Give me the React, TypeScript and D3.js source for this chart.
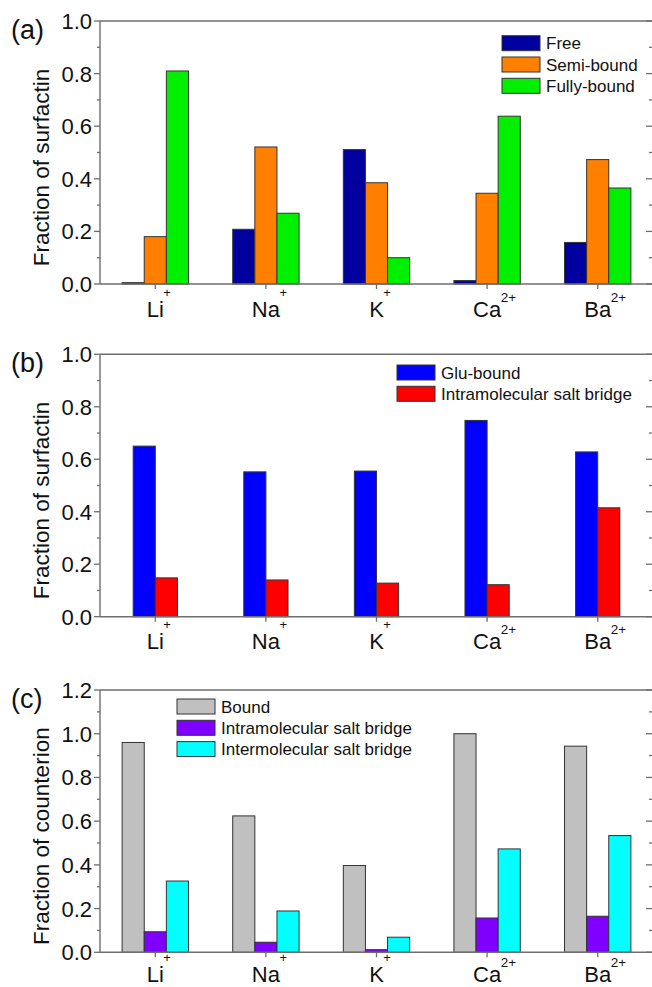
import React from "react";
import * as d3 from "d3";

const categories = ["Li", "Na", "K", "Ca", "Ba"];
const charges = ["+", "+", "+", "2+", "2+"];

const freeVals = [0.005, 0.208, 0.511, 0.013, 0.158];
const semiVals = [0.18, 0.521, 0.385, 0.345, 0.473];
const fullyVals = [0.81, 0.269, 0.1, 0.638, 0.365];

const gluVals = [0.65, 0.552, 0.555, 0.748, 0.628];
const intraSurfVals = [0.148, 0.14, 0.128, 0.122, 0.415];

const boundVals = [0.96, 0.624, 0.397, 1.0, 0.943];
const intraCountVals = [0.094, 0.046, 0.012, 0.157, 0.165];
const interCountVals = [0.326, 0.189, 0.069, 0.473, 0.534];

const yTicksAB = [0, 0.2, 0.4, 0.6, 0.8, 1.0];
const yTicksC = [0, 0.2, 0.4, 0.6, 0.8, 1.0, 1.2];

type Series = { name: string; values: number[]; color: string };
type PanelCfg = {
  tag: string;
  ylabel: string;
  top: number;
  bottom: number;
  yMax: number;
  ticks: number[];
  series: Series[];
  legendX: number;
  legendY: number;
};

const panels: PanelCfg[] = [
  {
    tag: "(a)",
    ylabel: "Fraction of surfactin",
    top: 21,
    bottom: 284,
    yMax: 1.0,
    ticks: yTicksAB,
    series: [
      { name: "Free", values: freeVals, color: "#00009e" },
      { name: "Semi-bound", values: semiVals, color: "#ff8000" },
      { name: "Fully-bound", values: fullyVals, color: "#00f000" },
    ],
    legendX: 502,
    legendY: 35.7,
  },
  {
    tag: "(b)",
    ylabel: "Fraction of surfactin",
    top: 354.3,
    bottom: 616.7,
    yMax: 1.0,
    ticks: yTicksAB,
    series: [
      { name: "Glu-bound", values: gluVals, color: "#0000ff" },
      { name: "Intramolecular salt bridge", values: intraSurfVals, color: "#ff0000" },
    ],
    legendX: 397,
    legendY: 365,
  },
  {
    tag: "(c)",
    ylabel: "Fraction of counterion",
    top: 690,
    bottom: 952.3,
    yMax: 1.2,
    ticks: yTicksC,
    series: [
      { name: "Bound", values: boundVals, color: "#c0c0c0" },
      { name: "Intramolecular salt bridge", values: intraCountVals, color: "#8000ff" },
      { name: "Intermolecular salt bridge", values: interCountVals, color: "#00ffff" },
    ],
    legendX: 177,
    legendY: 699,
  },
];

const FONT = "'Liberation Sans', Arial, Helvetica, sans-serif";
const LEFT = 100;
const RIGHT = 653;
const AXIS = "#6e6e6e";
const TICK_FS = 22;

// Arial / Liberation Sans advance widths (em) for the label glyphs
const ADV: Record<string, number> = { L: 0.556, i: 0.222, N: 0.722, a: 0.556, K: 0.667, C: 0.722, B: 0.667 };
const textW = (s: string, fs: number) => s.split("").reduce((w, ch) => w + (ADV[ch] ?? 0.556), 0) * fs;

function Panel({ cfg }: { cfg: PanelCfg }) {
  const x = d3.scaleLinear().domain([0.5, 5.5]).range([LEFT, RIGHT]);
  const y = d3.scaleLinear().domain([0, cfg.yMax]).range([cfg.bottom, cfg.top]);
  const bw = x(0.7) - x(0.5);
  const n = cfg.series.length;
  const minor = d3.range(0, Math.round(cfg.yMax * 10) + 1).map((i) => i / 10);
  const midY = (cfg.top + cfg.bottom) / 2 + 15;
  const labBase = Math.min(cfg.bottom + 32.5, 981.5);
  return (
    <g>
      {cfg.series.map((s, si) =>
        s.values.map((v, ci) => {
          const cx = x(ci + 1);
          const x0 = cx - (n * bw) / 2 + si * bw;
          return (
            <rect
              key={s.name + ci}
              x={x0}
              y={y(v)}
              width={bw}
              height={y(0) - y(v)}
              fill={s.color}
              stroke="#333"
              strokeWidth={1}
            />
          );
        })
      )}
      <line x1={LEFT} x2={RIGHT} y1={cfg.top} y2={cfg.top} stroke={AXIS} strokeWidth={1.4} />
      <line x1={LEFT} x2={RIGHT} y1={cfg.bottom} y2={cfg.bottom} stroke={AXIS} strokeWidth={1.4} />
      <line x1={LEFT} x2={LEFT} y1={cfg.top} y2={cfg.bottom} stroke={AXIS} strokeWidth={1.4} />
      <line x1={RIGHT} x2={RIGHT} y1={cfg.top} y2={cfg.bottom} stroke={AXIS} strokeWidth={1.4} />
      {minor.map((t, i) => {
        const major = i % 2 === 0;
        return (
          <g key={"yt" + i}>
            <line x1={LEFT - (major ? 6 : 3)} x2={LEFT} y1={y(t)} y2={y(t)} stroke={AXIS} strokeWidth={1.3} />
            <line x1={RIGHT - (major ? 7 : 4)} x2={RIGHT} y1={y(t)} y2={y(t)} stroke={AXIS} strokeWidth={1.3} />
          </g>
        );
      })}
      {cfg.ticks.map((t) => (
        <text
          key={"yl" + t}
          x={LEFT - 8}
          y={y(t)}
          dy="0.36em"
          textAnchor="end"
          fontSize={TICK_FS}
          fontFamily={FONT}
          fill="#111"
        >
          {t.toFixed(1)}
        </text>
      ))}
      {categories.map((c, i) => {
        const cx = x(i + 1);
        const single = charges[i] === "+";
        return (
          <g key={"xt" + c}>
            <line x1={cx} x2={cx} y1={cfg.bottom} y2={cfg.bottom + 5} stroke={AXIS} strokeWidth={1.3} />
            <text x={cx} y={labBase} textAnchor="middle" fontSize={TICK_FS} fontFamily={FONT} fill="#111">
              {c}
            </text>
            <text
              x={cx + textW(c, TICK_FS) / 2 - 0.5}
              y={labBase - (single ? 20 : 15)}
              fontSize={single ? 13 : 13.5}
              fontFamily={FONT}
              fill="#111"
            >
              {charges[i]}
            </text>
          </g>
        );
      })}
      <text
        transform={`translate(49,${midY}) rotate(-90)`}
        textAnchor="middle"
        fontSize={22.5}
        fontFamily={FONT}
        fill="#111"
      >
        {cfg.ylabel}
      </text>
      <text x={11} y={cfg.top + 18} fontSize={27} fontFamily={FONT} fill="#111">
        {cfg.tag}
      </text>
      {cfg.series.map((s, si) => {
        const ry = cfg.legendY + si * 21.3;
        return (
          <g key={"lg" + si}>
            <rect x={cfg.legendX} y={ry} width={38} height={15} fill={s.color} stroke="#333" strokeWidth={1} />
            <text x={cfg.legendX + 44} y={ry + 13.5} fontSize={17} fontFamily={FONT} fill="#111">
              {s.name}
            </text>
          </g>
        );
      })}
    </g>
  );
}

export default function App() {
  return (
    <div style={{ position: "absolute", left: 0, top: 0 }}>
      <svg width={652} height={987} style={{ display: "block", background: "#fff" }}>
        {panels.map((p) => (
          <Panel key={p.tag} cfg={p} />
        ))}
      </svg>
    </div>
  );
}
